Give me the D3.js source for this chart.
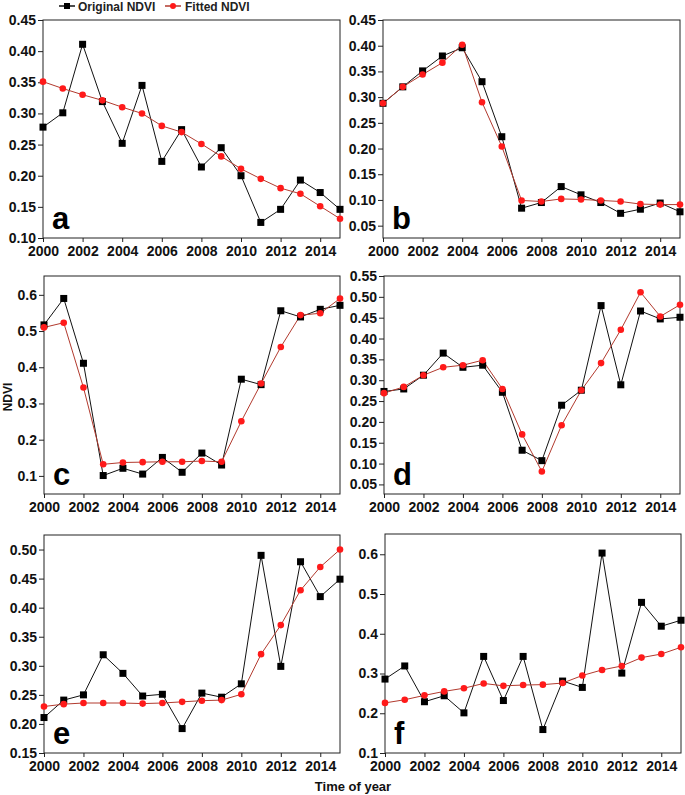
<!DOCTYPE html>
<html><head><meta charset="utf-8">
<script src="https://cdn.jsdelivr.net/npm/d3@7"></script>
<style>
body{margin:0;background:#fff;}
text{font-family:"Liberation Sans",Arial,sans-serif;}
</style></head>
<body><svg id="c" width="685" height="795"></svg>
<script>
const years = d3.range(2000, 2016);
const xTickYears = [2000,2002,2004,2006,2008,2010,2012,2014];

const origA = [0.278,0.301,0.411,0.319,0.252,0.345,0.223,0.274,0.214,0.245,0.200,0.125,0.146,0.193,0.173,0.146];
const fitA  = [0.351,0.340,0.330,0.321,0.310,0.300,0.280,0.270,0.251,0.231,0.211,0.195,0.180,0.171,0.151,0.131];
const origB = [0.288,0.320,0.351,0.380,0.396,0.330,0.223,0.084,0.095,0.126,0.110,0.095,0.074,0.082,0.094,0.077];
const fitB  = [0.288,0.320,0.344,0.367,0.402,0.290,0.204,0.099,0.097,0.102,0.101,0.099,0.097,0.092,0.091,0.091];
const origC = [0.517,0.590,0.411,0.101,0.121,0.105,0.151,0.110,0.163,0.130,0.367,0.352,0.556,0.539,0.560,0.571];
const fitC  = [0.510,0.523,0.344,0.132,0.137,0.138,0.139,0.139,0.141,0.139,0.251,0.355,0.456,0.544,0.549,0.590];
const origD = [0.273,0.279,0.312,0.365,0.331,0.336,0.271,0.132,0.107,0.240,0.276,0.479,0.289,0.466,0.447,0.451];
const fitD  = [0.269,0.284,0.312,0.331,0.336,0.348,0.279,0.170,0.081,0.192,0.276,0.341,0.421,0.511,0.453,0.481];
const origE = [0.211,0.241,0.250,0.319,0.287,0.248,0.251,0.192,0.253,0.246,0.269,0.490,0.299,0.479,0.419,0.449];
const fitE  = [0.230,0.234,0.236,0.236,0.236,0.235,0.236,0.238,0.240,0.241,0.251,0.320,0.370,0.430,0.470,0.500];
const origF = [0.286,0.319,0.229,0.244,0.201,0.343,0.232,0.343,0.159,0.281,0.265,0.603,0.301,0.479,0.419,0.434];
const fitF  = [0.226,0.234,0.245,0.255,0.263,0.275,0.269,0.271,0.272,0.276,0.295,0.309,0.319,0.340,0.349,0.366];

const ticksA = [0.10,0.15,0.20,0.25,0.30,0.35,0.40,0.45];
const ticksB = [0.05,0.10,0.15,0.20,0.25,0.30,0.35,0.40,0.45];
const ticksC = [0.1,0.2,0.3,0.4,0.5,0.6];
const ticksD = [0.05,0.10,0.15,0.20,0.25,0.30,0.35,0.40,0.45,0.50,0.55];
const ticksE = [0.15,0.20,0.25,0.30,0.35,0.40,0.45,0.50];
const ticksF = [0.1,0.2,0.3,0.4,0.5,0.6];

const panelLetters = ["a","b","c","d","e","f"];
const seriesNames = ["Original NDVI","Fitted NDVI"];
const yTitle = "NDVI";
const xTitle = "Time of year";

const panels = [
  {letter:panelLetters[0], orig:origA, fit:fitA, ticks:ticksA, dom:[0.10,0.45], fmt:".2f", x0:43, x1:340, y0:20, y1:238},
  {letter:panelLetters[1], orig:origB, fit:fitB, ticks:ticksB, dom:[0.026,0.45], fmt:".2f", x0:383, x1:680, y0:20, y1:238},
  {letter:panelLetters[2], orig:origC, fit:fitC, ticks:ticksC, dom:[0.05,0.652], fmt:".1f", x0:44, x1:340, y0:276, y1:494},
  {letter:panelLetters[3], orig:origD, fit:fitD, ticks:ticksD, dom:[0.027,0.55], fmt:".2f", x0:384, x1:680, y0:276, y1:494},
  {letter:panelLetters[4], orig:origE, fit:fitE, ticks:ticksE, dom:[0.15,0.525], fmt:".2f", x0:44, x1:340, y0:535, y1:753},
  {letter:panelLetters[5], orig:origF, fit:fitF, ticks:ticksF, dom:[0.10,0.651], fmt:".1f", x0:385, x1:681, y0:534, y1:753}
];

const svg = d3.select("#c");
const RED = "#ff1a1a", REDLINE = "#b23a2e";

panels.forEach(p => {
  const x = d3.scaleLinear().domain([2000,2015]).range([p.x0,p.x1]);
  const y = d3.scaleLinear().domain(p.dom).range([p.y1,p.y0]);
  const g = svg.append("g");
  g.append("rect").attr("x",p.x0).attr("y",p.y0).attr("width",p.x1-p.x0).attr("height",p.y1-p.y0)
    .attr("fill","none").attr("stroke","#222").attr("stroke-width",1);
  const ya = g.append("g").attr("transform",`translate(${p.x0},0)`)
    .call(d3.axisLeft(y).tickValues(p.ticks).tickFormat(d3.format(p.fmt)).tickSize(5).tickSizeOuter(0).tickPadding(2));
  ya.select(".domain").remove();
  ya.selectAll("text").attr("font-size",14).attr("font-weight","bold").attr("fill","#111")
    .attr("font-family","'Liberation Sans',Arial,sans-serif");
  ya.selectAll("line").attr("stroke","#222");
  const xa = g.append("g").attr("transform",`translate(0,${p.y1})`)
    .call(d3.axisBottom(x).tickValues(xTickYears).tickFormat(d3.format("d")).tickSize(4).tickSizeOuter(0).tickPadding(4));
  xa.select(".domain").remove();
  xa.selectAll("text").attr("font-size",14).attr("font-weight","bold").attr("fill","#111")
    .attr("font-family","'Liberation Sans',Arial,sans-serif");
  xa.selectAll("line").attr("stroke","#222");

  const line = d3.line().x((d,i)=>x(years[i])).y(d=>y(d));
  g.append("path").datum(p.orig).attr("d",line).attr("fill","none").attr("stroke","#111").attr("stroke-width",1);
  g.append("path").datum(p.fit).attr("d",line).attr("fill","none").attr("stroke",REDLINE).attr("stroke-width",1);
  g.selectAll(".sq").data(p.orig).enter().append("rect")
    .attr("x",(d,i)=>x(years[i])-3.5).attr("y",d=>y(d)-3.5).attr("width",7).attr("height",7).attr("fill","#000");
  g.selectAll(".ci").data(p.fit).enter().append("circle")
    .attr("cx",(d,i)=>x(years[i])).attr("cy",d=>y(d)).attr("r",3.3).attr("fill",RED);
  g.append("text").attr("x",p.x0+9).attr("y",p.y1-9).text(p.letter)
    .attr("font-size",31).attr("font-weight","bold").attr("fill","#000");
});

const leg = svg.append("g");
leg.append("line").attr("x1",59).attr("x2",75).attr("y1",6).attr("y2",6).attr("stroke","#111").attr("stroke-width",1.5);
leg.append("rect").attr("x",64).attr("y",3).attr("width",6).attr("height",6).attr("fill","#000");
leg.append("text").attr("x",78).attr("y",10.5).text(seriesNames[0]).attr("font-size",12).attr("font-weight","bold").attr("fill","#222");
leg.append("line").attr("x1",165).attr("x2",181).attr("y1",6).attr("y2",6).attr("stroke",REDLINE).attr("stroke-width",1.5);
leg.append("circle").attr("cx",173).attr("cy",6).attr("r",3).attr("fill",RED);
leg.append("text").attr("x",185).attr("y",10.5).text(seriesNames[1]).attr("font-size",12).attr("font-weight","bold").attr("fill","#222");

svg.append("text").attr("transform","translate(12,397) rotate(-90)").attr("text-anchor","middle")
  .text(yTitle).attr("font-size",12).attr("font-weight","bold").attr("fill","#111");
svg.append("text").attr("x",353).attr("y",791).attr("text-anchor","middle")
  .text(xTitle).attr("font-size",13).attr("font-weight","bold").attr("fill","#111");
</script></body></html>
